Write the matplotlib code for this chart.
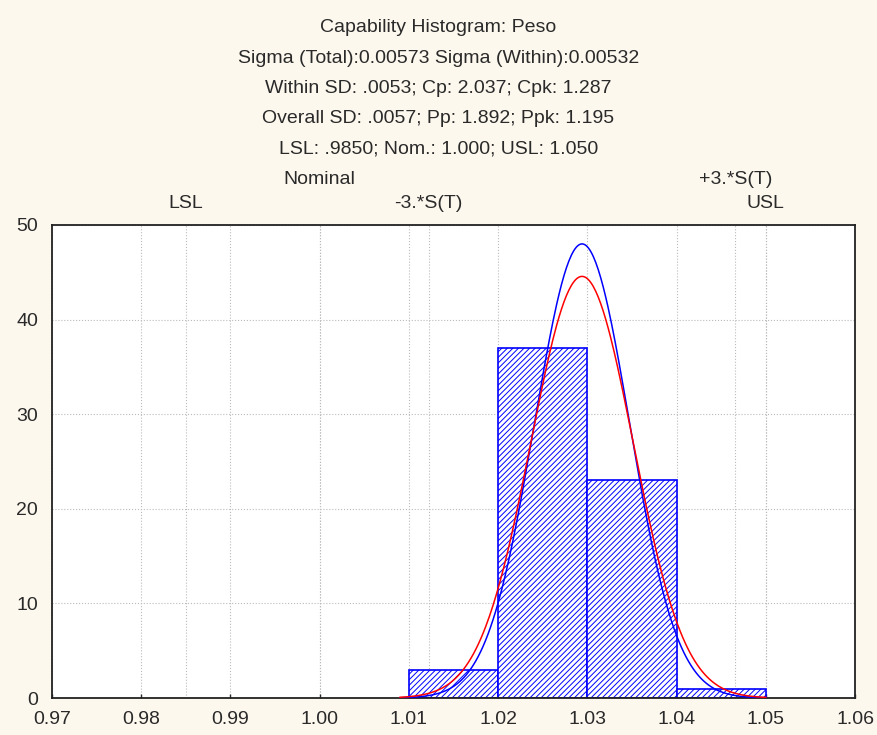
import numpy as np
import matplotlib
matplotlib.use("Agg")
import matplotlib.pyplot as plt

# histogram data (bin edges and counts)
bin_edges = [1.01, 1.02, 1.03, 1.04, 1.05]
counts = [3, 37, 23, 1]

# process statistics
n_obs = 64
mean = 1.0294
sigma_within = 0.00532
sigma_total = 0.00573
lsl, nominal, usl = 0.985, 1.000, 1.050

title_lines = [
    "Capability Histogram: Peso",
    "Sigma (Total):0.00573 Sigma (Within):0.00532",
    "Within SD: .0053; Cp: 2.037; Cpk: 1.287",
    "Overall SD: .0057; Pp: 1.892; Ppk: 1.195",
    "LSL: .9850; Nom.: 1.000; USL: 1.050",
]

bg = "#fdf8ee"
txt = "#2a2a2a"
plt.rcParams['font.family'] = ['Liberation Sans', 'DejaVu Sans']
plt.rcParams['hatch.color'] = 'blue'
plt.rcParams['hatch.linewidth'] = 0.7

fig = plt.figure(figsize=(8.77, 7.35), dpi=100, facecolor=bg)
ax = fig.add_axes([0.0593, 0.0503, 0.9157, 0.6437])
ax.set_facecolor("white")

widths = np.diff(bin_edges)
ax.bar(bin_edges[:-1], counts, width=widths, align='edge', facecolor='white',
       edgecolor='blue', hatch='//////', linewidth=1.2, zorder=2)

# normal curves scaled to the histogram
bw = 0.01
x = np.linspace(1.009, 1.050, 300)
def norm_curve(s):
    return n_obs * bw / (s * np.sqrt(2 * np.pi)) * np.exp(-0.5 * ((x - mean) / s) ** 2)
ax.plot(x, norm_curve(sigma_within), color='blue', lw=1.1, zorder=3)
ax.plot(x, norm_curve(sigma_total), color='red', lw=1.1, zorder=3)

ax.set_xlim(0.97, 1.06)
ax.set_ylim(0, 50)
xt = np.arange(0.97, 1.0601, 0.01)
ax.set_xticks(xt)
ax.set_xticklabels([f"{v:.2f}" for v in xt])
ax.set_yticks(range(0, 51, 10))
ax.tick_params(axis='x', direction='in', length=3, width=1, labelsize=14,
               colors=txt, pad=9)
ax.tick_params(axis='y', length=0, labelsize=14, colors=txt, pad=10)
ax.grid(True, linestyle=':', color='#bbbbbb', lw=0.8, zorder=0)
for s in ax.spines.values():
    s.set_color('#222222')
    s.set_linewidth(1.3)

# spec / sigma limit lines with labels above plot
lo3 = mean - 3 * sigma_total
hi3 = mean + 3 * sigma_total
marks = [(lsl, "LSL", 0), (nominal, "Nominal", 1), (lo3, "-3.*S(T)", 0),
         (hi3, "+3.*S(T)", 1), (usl, "USL", 0)]
for xv, lab, row in marks:
    ax.axvline(xv, linestyle=':', color='#bbbbbb', lw=0.8, zorder=0)
    ax.annotate(lab, xy=(xv, 50), xycoords='data', xytext=(0, 15.5 + row * 17),
                textcoords='offset points', ha='center', va='center',
                fontsize=14, color=txt)

for i, line in enumerate(title_lines):
    fig.text(0.5, 1 - (28 + 30.3 * i) / 735, line, ha='center', va='center',
             fontsize=14, color=txt)

fig.savefig("out.png", dpi=100, facecolor=bg)
